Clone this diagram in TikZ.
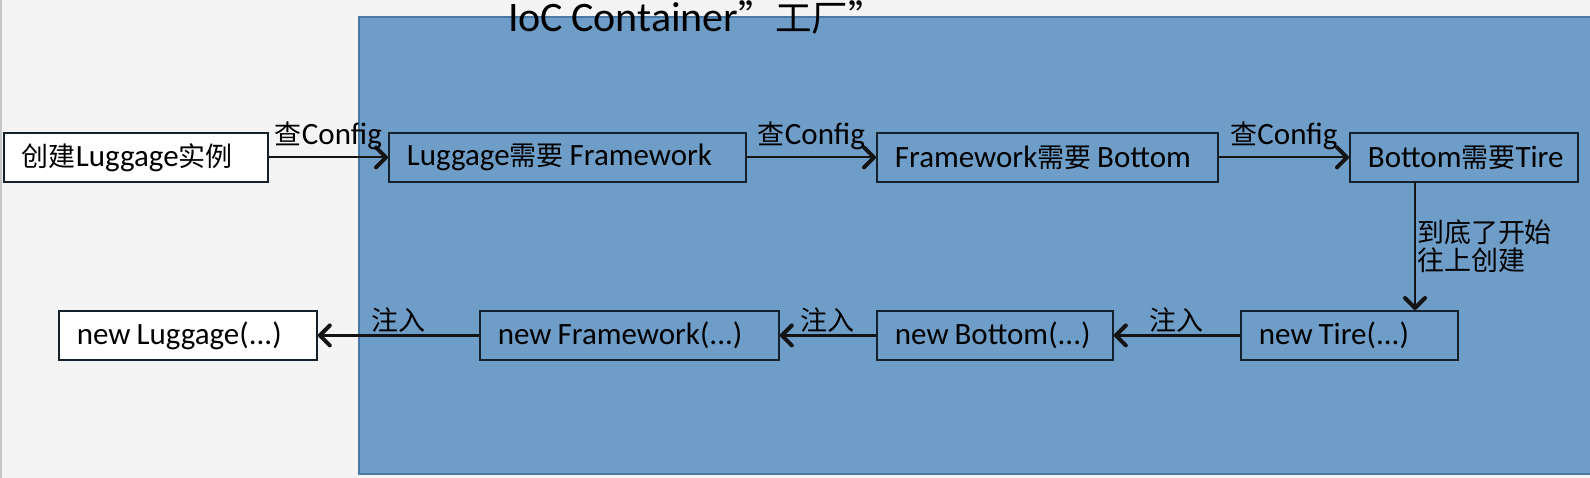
\documentclass[tikz,border=0pt]{standalone}
\usepackage{fontspec}
\setmainfont{Carlito}[WordSpace=0.85]
\newfontfamily\cjk[Scale=0.87]{Noto Sans CJK SC}
\newcommand{\zh}[1]{{\cjk #1}}
\usetikzlibrary{arrows.meta}
\definecolor{pagegray}{HTML}{F4F4F4}
\definecolor{iocblue}{HTML}{6E9DC8}
\definecolor{iocedge}{HTML}{4B79A6}
\definecolor{boxline}{HTML}{14202C}

\begin{document}
\begin{tikzpicture}[x=1pt,y=-1pt,
    box/.style={draw=boxline, line width=1.8pt, inner xsep=18pt, inner ysep=0pt,
      minimum height=49pt, anchor=north west, align=left, text width=#1,
      execute at begin node={\spaceskip=0pt\xspaceskip=0pt\hyphenpenalty=10000}},
    arr/.style={draw=black!92, line width=2.2pt,
      -{Straight Barb[length=10pt,width=20pt,line width=4pt,round]}},
    lbl/.style={above=#1, inner sep=0pt},
    every node/.style={font=\fontsize{31}{28}\selectfont}]
  \useasboundingbox[fill=pagegray] (0,0) rectangle (1590,478);
  \draw[gray!45, line width=1.5pt] (1,0) -- (1,478);
  % the container
  \draw[fill=iocblue, draw=iocedge, line width=1.5pt] (359,17) rectangle (1592,474);
  \node[anchor=base west, inner sep=0pt, font=\fontsize{42}{48}\selectfont] (title)
    at (508,32) {IoC Container\zh{”工厂”}};
  % looking up
  \node[box=228pt, fill=white] (make) at (3,132) {\zh{创建}Luggage\zh{实例}};
  \node[box=321pt] (lgneed) at (388,132) {Luggage\zh{需要} Framework};
  \node[box=305pt] (fwneed) at (876,132) {Framework\zh{需要} Bottom};
  \node[box=192pt] (btneed) at (1349,132) {Bottom\zh{需要}Tire};
  % building back
  \node[box=222pt, fill=white] (lgnew) at (58,310) {new Luggage(...)};
  \node[box=263pt] (fwnew) at (479,310) {new Framework(...)};
  \node[box=200pt] (btnew) at (876,310) {new Bottom(...)};
  \node[box=181pt] (trnew) at (1240,310) {new Tire(...)};

  \draw[arr] (make) -- node[lbl=6pt] {\zh{查}Config} (lgneed);
  \draw[arr] (lgneed) -- node[lbl=6pt] {\zh{查}Config} (fwneed);
  \draw[arr] (fwneed) -- node[lbl=6pt] {\zh{查}Config} (btneed);
  \coordinate (drop) at (1415,0);
  \draw[arr] (btneed.south -| drop) -- node[right, align=left, inner sep=1pt]
    {\zh{到底了开始}\\\zh{往上创建}} (trnew.north -| drop);
  \draw[arr] (trnew) -- node[lbl=2pt] {\zh{注入}} (btnew);
  \draw[arr] (btnew) -- node[lbl=2pt] {\zh{注入}} (fwnew);
  \draw[arr] (fwnew) -- node[lbl=2pt] {\zh{注入}} (lgnew);
\end{tikzpicture}
\end{document}
